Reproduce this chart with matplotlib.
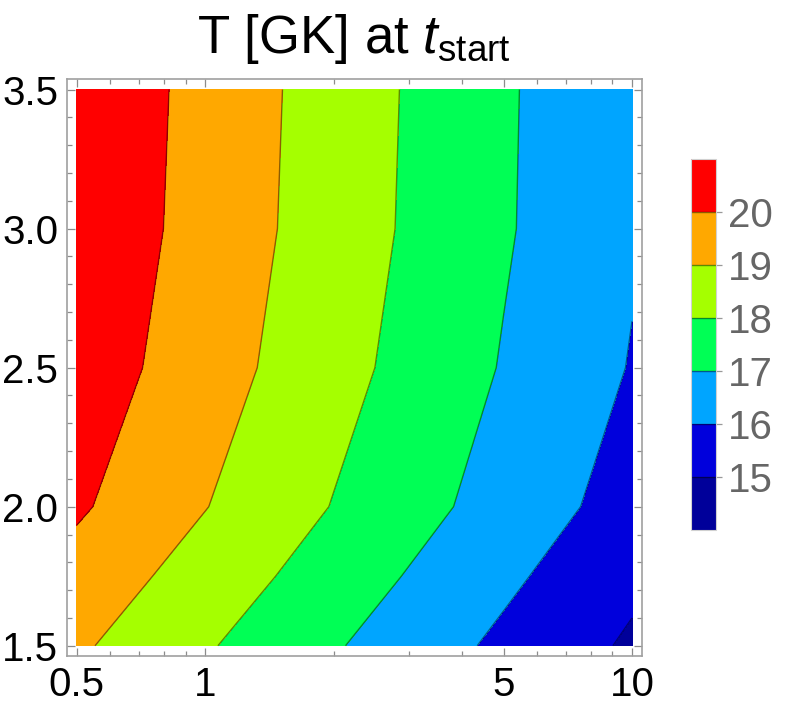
import numpy as np
import matplotlib
matplotlib.use("Agg")
import matplotlib.pyplot as plt

plt.rcParams['font.family'] = ['Liberation Sans', 'DejaVu Sans']
plt.rcParams['mathtext.fontset'] = 'custom'
plt.rcParams['mathtext.rm'] = 'Liberation Sans'
plt.rcParams['mathtext.it'] = 'Liberation Sans:italic'

# grid nodes (x is log-scaled on the plot)
x_nodes = [0.5, 1, 2, 5, 10]
y_nodes = [1.5, 1.75, 2.0, 2.5, 3.0, 3.5]

# temperature [GK], one row per y node
T_15 = [19.15, 18.10, 17.09, 15.80, 14.86]
T_175 = [19.62, 18.57, 17.53, 16.20, 15.21]
T_20 = [20.14, 19.03, 17.96, 16.60, 15.60]
T_25 = [20.58, 19.45, 18.34, 16.94, 15.95]
T_30 = [20.77, 19.63, 18.51, 17.10, 16.10]
T_35 = [20.82, 19.68, 18.55, 17.13, 16.08]

levels = [14, 15, 16, 17, 18, 19, 20, 21]
cbar_ticks = [15, 16, 17, 18, 19, 20]
colors = ['#00009a', '#0000dc', '#00a5ff', '#00ff55', '#a5ff00', '#ffa800', '#ff0000']

xticks = [0.5, 1, 5, 10]
xtick_labels = ['0.5', '1', '5', '10']
xminor = [0.6, 0.7, 0.8, 0.9, 2, 3, 4, 6, 7, 8, 9]
yticks = [1.5, 2.0, 2.5, 3.0, 3.5]

T = np.array([T_15, T_175, T_20, T_25, T_30, T_35])
lx = np.log10(x_nodes)

fig = plt.figure(figsize=(7.89, 7.13), dpi=100)
ax = fig.add_axes([0.0845, 0.0799, 0.7292, 0.8089])

cf = ax.contourf(lx, y_nodes, T, levels=levels, colors=colors)
cs = ax.contour(lx, y_nodes, T, levels=cbar_ticks, colors='k', alpha=0.45, linewidths=1.0)

padx = 0.0234
pady = 0.037
ax.set_xlim(lx[0] - padx, lx[-1] + padx)
ax.set_ylim(1.5 - pady, 3.5 + pady)

ax.set_xticks(np.log10(xticks))
ax.set_xticklabels(xtick_labels)
ax.set_xticks(np.log10(xminor), minor=True)
ax.set_yticks(yticks)
ax.set_yticklabels(['%.1f' % v for v in yticks])
ax.set_yticks(np.arange(1.5, 3.51, 0.1), minor=True)

ax.tick_params(which='both', direction='in', top=True, right=True, color='#8c8c8c',
               width=0.9, labelsize=29)
ax.tick_params(which='major', length=6)
ax.tick_params(which='minor', length=3.8)
ax.tick_params(axis='x', pad=7)
ax.tick_params(axis='y', pad=6)
for s in ax.spines.values():
    s.set_color('#a0a0a0')
    s.set_linewidth(1.2)

fig.text(0.449, 1 - 53 / 713, r'T [GK] at $t_{\mathrm{start}}$', ha='center',
         va='baseline', fontsize=38)

cax = fig.add_axes([0.8754, 0.2567, 0.0321, 0.5199])
cbar = fig.colorbar(cf, cax=cax, ticks=cbar_ticks)
cbar.add_lines(cs)
cbar.outline.set_edgecolor('#d0d0d0')
cbar.outline.set_linewidth(0.8)
cax.tick_params(length=4.5, width=0.9, color='#999999', labelcolor='#666666',
                labelsize=29, pad=4)

fig.savefig('out.png', dpi=100)
